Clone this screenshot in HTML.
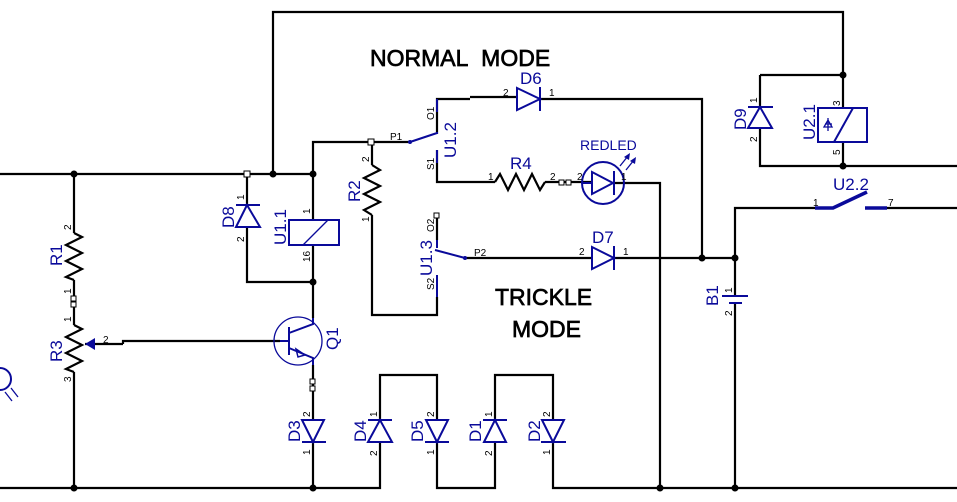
<!DOCTYPE html>
<html><head><meta charset="utf-8"><style>
html,body{margin:0;padding:0;background:#fff;}
svg{display:block;}
.w{stroke:#000;stroke-width:2.2;fill:none;}
.b{stroke:#0a0a9a;stroke-width:2;fill:none;}
.bt{stroke:#0a0a9a;stroke-width:1.3;fill:none;}
.lb{font-family:"Liberation Sans",sans-serif;font-size:17px;fill:#0a0a9a;}
.pn{font-family:"Liberation Sans",sans-serif;font-size:10px;fill:#000;}
.big{font-family:"Liberation Sans",sans-serif;font-size:23px;fill:#000;stroke:#000;stroke-width:0.7;}
.sq{fill:#fff;stroke:#000;stroke-width:1;}
</style></head><body>
<svg width="957" height="502" viewBox="0 0 957 502" xmlns="http://www.w3.org/2000/svg">
<path class="w" d="M273,174 V12 H843 V75"/>
<path class="w" d="M0,174 H313 V220 M313,245 V318 M313,365 V420 M313,442 V488"/>
<path class="w" d="M313,174 V142 H410"/>
<path class="w" d="M247,174 V205 M247,227 V282 H313"/>
<path class="w" d="M74,174 V233 M74,280 V325 M74,372 V488"/>
<path class="w" d="M0,488 H380 V442 M380,420 V375 H437 V420 M437,442 V488 H495 V442 M495,420 V375 H553 V420 M553,442 V488 H957"/>
<path class="w" d="M123,344 V341 H280 M85,344 H123"/>
<path class="w" d="M372,142 V165 M372,215 V315 H437 V297"/>
<path class="w" d="M437,216 V240"/>
<path class="w" d="M437,134 V99 H470 M470,97 H517 M540,99 H702 V258"/>
<path class="w" d="M437,150 V182 H495 M545,182 H592 M614,183 H660 V488"/>
<path class="w" d="M465,258 H592 M614,258 H735"/>
<path class="w" d="M735,296 V208 H815 M887,208 H957 M735,303 V488"/>
<path class="w" d="M760,75 H843 V108 M843,142 V166 M760,75 V107 M760,128 V166 H957"/>
<g fill="#000"><circle cx="74" cy="174" r="3.5"/><circle cx="273" cy="174" r="3.5"/><circle cx="313" cy="174" r="3.5"/><circle cx="313" cy="282" r="3.5"/><circle cx="74" cy="488" r="3.5"/><circle cx="313" cy="488" r="3.5"/><circle cx="660" cy="488" r="3.5"/><circle cx="735" cy="488" r="3.5"/><circle cx="702" cy="258" r="3.5"/><circle cx="735" cy="258" r="3.5"/><circle cx="843" cy="75" r="3.5"/><circle cx="843" cy="166" r="3.5"/></g>
<rect class="sq" x="244" y="171" width="6" height="6"/><rect class="sq" x="368" y="139" width="6" height="6"/>
<rect class="sq" x="71" y="296" width="5" height="5"/><rect class="sq" x="71" y="302" width="5" height="5"/>
<rect class="sq" x="310" y="379" width="5" height="5"/><rect class="sq" x="310" y="386" width="5" height="5"/>
<rect class="sq" x="434" y="213" width="5" height="5"/>
<rect class="sq" x="559" y="180" width="5" height="5"/><rect class="sq" x="566" y="180" width="5" height="5"/>
<path class="w" d="M74,233 L82,237 L66,245 L82,253 L66,261 L82,269 L66,277 L74,280"/>
<path class="w" d="M74,325 L82,329 L66,337 L82,345 L66,353 L82,361 L66,369 L74,372"/>
<path d="M85,344 L95,338 L95,350 Z" fill="#0a0a9a"/>
<path class="w" d="M372,165 L380,170 L364,178 L380,186 L364,194 L380,202 L364,210 L372,215"/>
<path class="w" d="M495,182 L500,174 L508,190 L516,174 L524,190 L532,174 L540,190 L545,182"/>
<rect class="b" x="289" y="220" width="50" height="25"/><path class="bt" d="M303,245 L328,220"/>
<path class="b" d="M236,205 H260 M247,205 L236,227 H260 Z"/>
<circle class="bt" cx="298" cy="341" r="24" stroke-width="1.6"/>
<path class="b" d="M280,341 H289 M289,327 V355 M289,333 L313,324 V318 M289,348 L313,358 V365"/>
<path d="M305,355 L296,349 L298,357 Z" fill="none" stroke="#0a0a9a" stroke-width="1.5"/>
<path class="b" d="M302,442 H326 M313,442 L302,420 H324 Z"/>
<path class="b" d="M368,420 H392 M380,420 L368,442 H392 Z"/>
<path class="b" d="M425,442 H449 M437,442 L426,420 H448 Z"/>
<path class="b" d="M483,420 H507 M495,420 L484,442 H506 Z"/>
<path class="b" d="M541,442 H566 M553,442 L542,420 H564 Z"/>
<path class="b" d="M517,88 L540,99 L517,110 Z M540,87 V111"/>
<path class="b" d="M592,247 L614,258 L592,269 Z M614,246 V270"/>
<circle class="b" cx="603" cy="183" r="21" stroke-width="1.6"/>
<path class="b" d="M592,172 L613,183 L592,194 Z M614,171 V195 M582,183 H592"/>
<path class="bt" d="M620,166 L628,156 M626,170 L634,160"/>
<path d="M630,153 L624,157 L629,160Z M636,157 L630,161 L635,164Z" fill="#0a0a9a"/>
<path class="b" d="M410,142 L437,133 M437,132 V134 M437,99 V112 M437,150 V163"/>
<circle cx="410" cy="142" r="2" fill="#0a0a9a"/>
<path class="b" d="M437,240 V248 M435,250 L465,258 M437,275 V297"/>
<circle cx="465" cy="258" r="2" fill="#0a0a9a"/>
<path d="M815,208 H833 L867,192 M865,208 H887" stroke="#0a0a9a" stroke-width="3.5" fill="none"/>
<path class="b" d="M748,107 H773 M760,107 L748,128 H772 Z"/>
<rect class="b" x="818" y="108" width="49" height="34"/><path class="b" d="M834,142 L853,108"/>
<path class="bt" d="M825,124 H832 M828,118 V131 M824,127 L828,120 L832,127 Z"/>
<path class="b" d="M722,296 H748 M729,303 H742" stroke-width="2.5"/>
<circle class="b" cx="0" cy="379" r="11" stroke-width="1.6"/><path class="bt" d="M5,392 L12,401 M11,388 L18,397"/>
<text class="big" x="370" y="66">NORMAL&#160;&#160;MODE</text>
<text class="big" x="495" y="305">TRICKLE</text>
<text class="big" x="512" y="337">MODE</text>
<text class="lb" x="520" y="84">D6</text>
<text class="lb" x="510" y="169">R4</text>
<text class="lb" x="580" y="150" style="font-size:14px">REDLED</text>
<text class="lb" x="592" y="243">D7</text>
<text class="lb" x="833" y="190">U2.2</text>
<g class="lb">
<text transform="translate(62,266) rotate(-90)">R1</text>
<text transform="translate(62,362) rotate(-90)">R3</text>
<text transform="translate(234,228) rotate(-90)">D8</text>
<text transform="translate(286,245) rotate(-90)">U1.1</text>
<text transform="translate(360,202) rotate(-90)">R2</text>
<text transform="translate(456,158) rotate(-90)">U1.2</text>
<text transform="translate(432,276) rotate(-90)">U1.3</text>
<text transform="translate(338,350) rotate(-90)">Q1</text>
<text transform="translate(300,442) rotate(-90)">D3</text>
<text transform="translate(366,442) rotate(-90)">D4</text>
<text transform="translate(423,442) rotate(-90)">D5</text>
<text transform="translate(481,442) rotate(-90)">D1</text>
<text transform="translate(540,442) rotate(-90)">D2</text>
<text transform="translate(746,130) rotate(-90)">D9</text>
<text transform="translate(815,140) rotate(-90)">U2.1</text>
<text transform="translate(718,306) rotate(-90)">B1</text>
</g>
<g class="pn">
<text x="390" y="140">P1</text><text x="474" y="256">P2</text>
<text x="503" y="96">2</text><text x="549" y="96">1</text>
<text x="488" y="180">1</text><text x="550" y="180">2</text>
<text x="577" y="180">2</text><text x="621" y="180">1</text>
<text x="579" y="255">2</text><text x="623" y="255">1</text>
<text x="103" y="343">2</text>
<text x="813" y="206">1</text><text x="888" y="206">7</text>
</g>
<g class="pn">
<text transform="translate(71,230) rotate(-90)">2</text>
<text transform="translate(71,294) rotate(-90)">1</text>
<text transform="translate(71,322) rotate(-90)">1</text>
<text transform="translate(71,382) rotate(-90)">3</text>
<text transform="translate(244,200) rotate(-90)">1</text>
<text transform="translate(244,242) rotate(-90)">2</text>
<text transform="translate(310,214) rotate(-90)">1</text>
<text transform="translate(310,262) rotate(-90)">16</text>
<text transform="translate(369,162) rotate(-90)">2</text>
<text transform="translate(369,222) rotate(-90)">1</text>
<text transform="translate(434,120) rotate(-90)">O1</text>
<text transform="translate(434,170) rotate(-90)">S1</text>
<text transform="translate(434,232) rotate(-90)">O2</text>
<text transform="translate(434,290) rotate(-90)">S2</text>
<text transform="translate(310,417) rotate(-90)">2</text>
<text transform="translate(310,455) rotate(-90)">1</text>
<text transform="translate(377,417) rotate(-90)">1</text>
<text transform="translate(377,456) rotate(-90)">2</text>
<text transform="translate(434,417) rotate(-90)">2</text>
<text transform="translate(434,455) rotate(-90)">1</text>
<text transform="translate(492,417) rotate(-90)">1</text>
<text transform="translate(492,456) rotate(-90)">2</text>
<text transform="translate(550,417) rotate(-90)">2</text>
<text transform="translate(550,455) rotate(-90)">1</text>
<text transform="translate(757,103) rotate(-90)">1</text>
<text transform="translate(757,142) rotate(-90)">2</text>
<text transform="translate(840,106) rotate(-90)">3</text>
<text transform="translate(840,155) rotate(-90)">5</text>
<text transform="translate(732,293) rotate(-90)">1</text>
<text transform="translate(732,316) rotate(-90)">2</text>
</g>
</svg>
</body></html>
